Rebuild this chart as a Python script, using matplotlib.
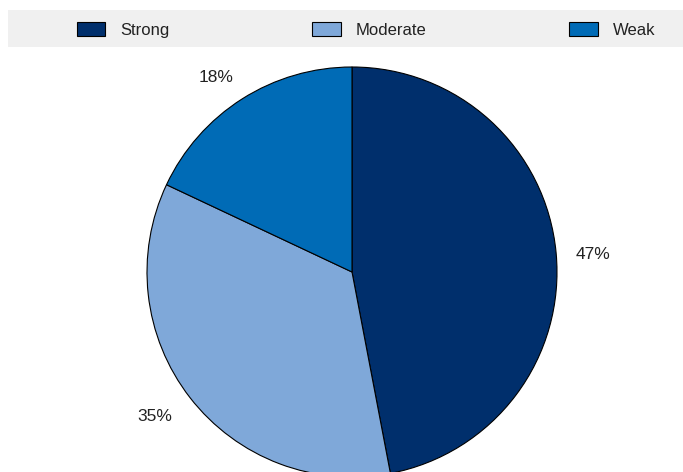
import matplotlib
matplotlib.use("Agg")
from matplotlib import pyplot as plt
from matplotlib.patches import Rectangle

plt.rcParams['font.family'] = ['Liberation Sans Narrow', 'Liberation Sans', 'DejaVu Sans']

labels = ['Strong', 'Moderate', 'Weak']
shares = [47, 35, 18]
colors = ['#002F6C', '#7FA8D9', '#006BB6']
# small nudges for the percentage labels (data units)
nudges = [(0.015, -0.025), (-0.04, 0.01), (-0.04, -0.035)]

W, H = 683, 472
fig = plt.figure(figsize=(W / 100, H / 100), dpi=100)

# legend background band
fig.patches.append(Rectangle((8 / W, 1 - 47 / H), 675 / W, 37 / H, transform=fig.transFigure,
                             facecolor='#F0F0F0', edgecolor='none', zorder=0))

# pie centre (352, 272) px, radius 205 px
cx, cy, r = 352, 272, 205
ax = fig.add_axes([(cx - r) / W, (H - cy - r) / H, 2 * r / W, 2 * r / H])
wedges, texts = ax.pie(shares, colors=colors, startangle=90, counterclock=False,
                       labels=[f'{v}%' for v in shares], labeldistance=1.165,
                       wedgeprops=dict(edgecolor='black', linewidth=0.8),
                       textprops=dict(fontsize=12.5, color='#222222'))
for t, (dx, dy) in zip(texts, nudges):
    x, y = t.get_position()
    t.set_position((x + dx, y + dy))
    t.set_ha('center')
    t.set_va('center')
    t.set_clip_on(False)
ax.set_xlim(-1, 1)
ax.set_ylim(-1, 1)
ax.axis('off')

leg = fig.legend(wedges, labels, loc='center left', ncol=3, mode='expand',
                 bbox_to_anchor=(77 / W, 1 - 30 / H, (655 - 77) / W, 0),
                 frameon=False, fontsize=12, borderpad=0, borderaxespad=0,
                 handlelength=1.7, handleheight=0.85, handletextpad=0.9)
for t in leg.get_texts():
    t.set_color('#222222')
for p in leg.get_patches():
    p.set_edgecolor('black')
    p.set_linewidth(0.8)

fig.savefig('out.png', dpi=100)
